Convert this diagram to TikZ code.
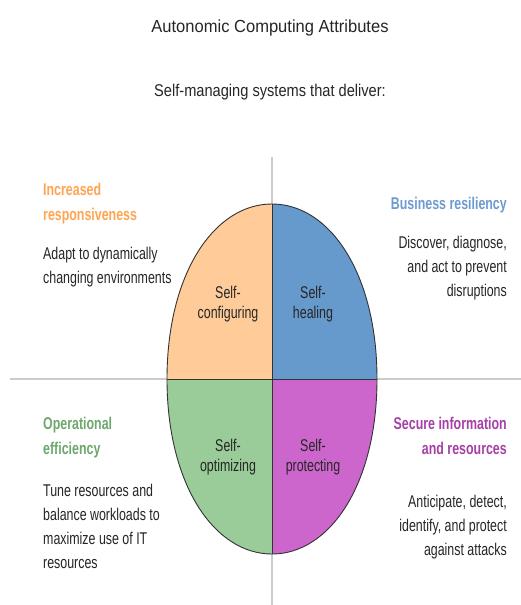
\documentclass[tikz,border=0pt]{standalone}
\usepackage{fontspec}
\setmainfont[FakeStretch=0.73]{Liberation Sans}
\newfontfamily\ttlfont[FakeStretch=0.945]{Liberation Sans}
\newfontfamily\subfont[FakeStretch=0.86]{Liberation Sans}
\newcommand{\eggpath}{(167,379) .. controls (167,274) and (214,204) .. (272,204)
  .. controls (330,204) and (377,274) .. (377,379)
  .. controls (377,484) and (330,554) .. (272,554)
  .. controls (214,554) and (167,484) .. (167,379) -- cycle}
\begin{document}
\begin{tikzpicture}[x=1pt,y=-1pt,
  guide/.style={draw=black!20,line width=2pt},
  body/.style={font=\fontsize{17}{24}\selectfont,text=black!85,inner sep=0pt},
  head/.style={font=\fontsize{17}{24.5}\selectfont\bfseries,inner sep=0pt},
  inlab/.style={font=\fontsize{17}{20.5}\selectfont,text=black!85,align=center,inner sep=0pt}]
\definecolor{cor}{HTML}{FFCC99}
\definecolor{cbl}{HTML}{6699CC}
\definecolor{cgr}{HTML}{99CC99}
\definecolor{cpu}{HTML}{CC66CC}
\definecolor{tor}{HTML}{FFA552}
\definecolor{tbl}{HTML}{6E9BCF}
\definecolor{tgr}{HTML}{6EA86E}
\definecolor{tpu}{HTML}{A640A6}
\useasboundingbox (0,0) rectangle (521,605);
\fill[white] (0,0) rectangle (521,605);
\coordinate (c) at (272,379);
\coordinate (hl) at (10,379);
\coordinate (hr) at (521,379);
\coordinate (vt) at (272,157);
\coordinate (vb) at (272,605);
\draw[guide] (hl) -- (hr);
\draw[guide] (vt) -- (vb);
\begin{scope}
\clip \eggpath;
\fill[cor] (160,195) rectangle (c);
\fill[cbl] (385,195) rectangle (c);
\fill[cgr] (160,565) rectangle (c);
\fill[cpu] (385,565) rectangle (c);
\draw[black!80,line width=1pt] (160,379) -- (385,379);
\draw[black!80,line width=1pt] (272,195) -- (272,565);
\end{scope}
\draw[black!80,line width=0.9pt] \eggpath;
\node[font=\ttlfont\fontsize{17.5}{21}\selectfont,text=black!85] (title) at (270,28) {Autonomic Computing Attributes};
\node[font=\subfont\fontsize{17}{21}\selectfont,text=black!85] (sub) at (270,92) {Self-managing systems that deliver:};
\node[inlab] (sc) at (228,304) {Self-\\configuring};
\node[inlab] (sh) at (313,304) {Self-\\healing};
\node[inlab] (so) at (228,457) {Self-\\optimizing};
\node[inlab] (sp) at (313,457) {Self-\\protecting};
\node[head,text=tor,anchor=north west,align=left] (h1) at (43,183) {Increased\\responsiveness};
\node[body,anchor=north west,align=left] (b1) at (43,247) {Adapt to dynamically\\changing environments};
\node[head,text=tbl,anchor=north east,align=right] (h2) at (507,197) {Business resiliency};
\node[body,anchor=north east,align=right] (b2) at (507,236) {Discover, diagnose,\\and act to prevent\\disruptions};
\node[head,text=tgr,anchor=north west,align=left] (h3) at (43,417) {Operational\\efficiency};
\node[body,anchor=north west,align=left] (b3) at (43,484) {Tune resources and\\balance workloads to\\maximize use of IT\\resources};
\node[head,text=tpu,anchor=north east,align=right] (h4) at (507,417) {Secure information\\and resources};
\node[body,anchor=north east,align=right] (b4) at (507,495) {Anticipate, detect,\\identify, and protect\\against attacks};
\end{tikzpicture}
\end{document}
